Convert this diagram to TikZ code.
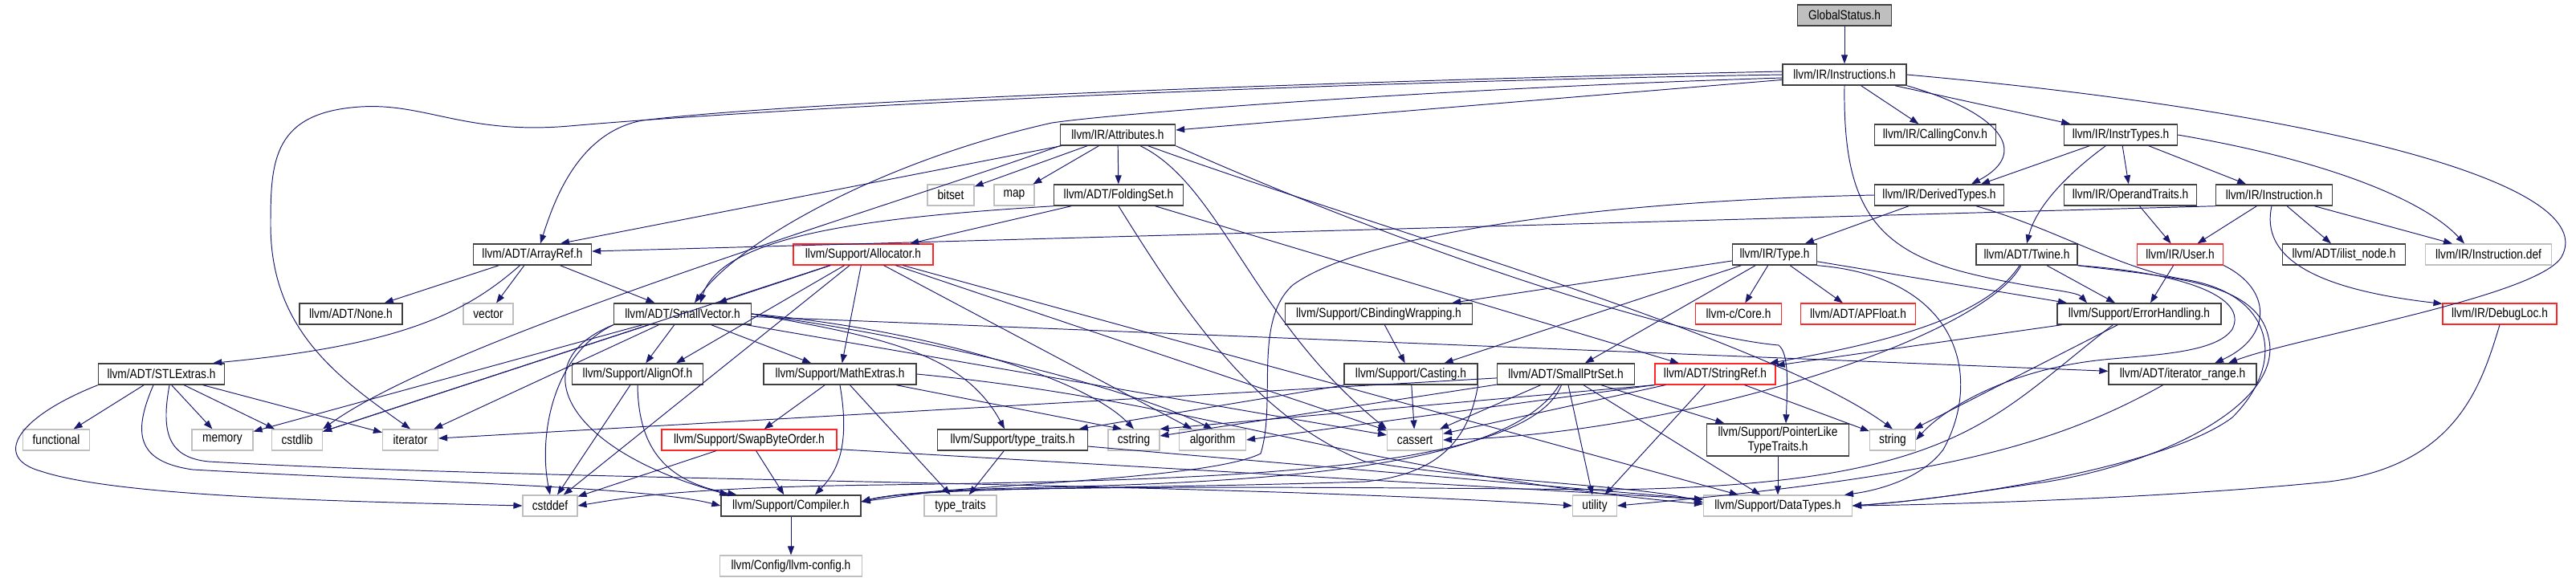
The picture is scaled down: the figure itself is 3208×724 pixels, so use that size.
\documentclass[tikz,border=0pt]{standalone}
\usepackage{fontspec}
\setmainfont{Liberation Sans}[FakeStretch=0.84]
\usetikzlibrary{arrows.meta,calc}
\definecolor{navy}{RGB}{25,25,112}
\definecolor{boxgray}{RGB}{191,191,191}
\begin{document}
\begin{tikzpicture}[x=0.02cm,y=-0.02cm,
    box/.style={draw=black!75,line width=0.8pt,fill=white,minimum height=0.52cm,inner sep=0pt,font=\fontsize{9.3}{10.5}\selectfont},
    redbox/.style={box,draw=red!85!white,line width=0.65pt},
    sysbox/.style={box,draw=boxgray,line width=0.65pt},
    edge/.style={navy,line width=0.55pt,-{Triangle[length=0.22cm,width=0.16cm]}}]
    \useasboundingbox (0,0) rectangle (3208,724);

    \node[box,fill=boxgray,minimum width=2.34cm] (GlobalStatus) at (2297,19) {GlobalStatus.h};
    \node[box,minimum width=3.08cm] (Instructions) at (2297,93) {llvm/IR/Instructions.h};

    \node[box,minimum width=2.86cm] (Attributes) at (1392,168) {llvm/IR/Attributes.h};
    \node[box,minimum width=3.02cm] (CallingConv) at (2410,168) {llvm/IR/CallingConv.h};
    \node[box,minimum width=2.82cm] (InstrTypes) at (2641,168) {llvm/IR/InstrTypes.h};

    \node[sysbox,minimum width=1.16cm] (bitset) at (1184,243) {bitset};
    \node[sysbox,minimum width=1.0cm] (map) at (1263,243) {map};
    \node[box,minimum width=3.22cm] (FoldingSet) at (1393,243) {llvm/ADT/FoldingSet.h};
    \node[box,minimum width=3.22cm] (DerivedTypes) at (2415,243) {llvm/IR/DerivedTypes.h};
    \node[box,minimum width=3.3cm] (OperandTraits) at (2653,243) {llvm/IR/OperandTraits.h};
    \node[box,minimum width=2.9cm] (Instruction) at (2832,243) {llvm/IR/Instruction.h};

    \node[box,minimum width=2.94cm] (ArrayRef) at (663,317) {llvm/ADT/ArrayRef.h};
    \node[redbox,minimum width=3.48cm] (Allocator) at (1075,317) {llvm/Support/Allocator.h};
    \node[box,minimum width=2.1cm] (Type) at (2210,317) {llvm/IR/Type.h};
    \node[box,minimum width=2.52cm] (Twine) at (2524,317) {llvm/ADT/Twine.h};
    \node[redbox,minimum width=2.14cm] (User) at (2715,317) {llvm/IR/User.h};
    \node[box,minimum width=3.06cm] (ilistnode) at (2919,317) {llvm/ADT/ilist\_node.h};
    \node[sysbox,minimum width=3.14cm] (Instrdef) at (3099,317) {llvm/IR/Instruction.def};

    \node[box,minimum width=2.56cm] (None) at (437,391) {llvm/ADT/None.h};
    \node[sysbox,minimum width=1.24cm] (vector) at (608,391) {vector};
    \node[box,minimum width=3.42cm] (SmallVector) at (850,391) {llvm/ADT/SmallVector.h};
    \node[box,minimum width=4.66cm] (CBinding) at (1717,391) {llvm/Support/CBindingWrapping.h};
    \node[redbox,minimum width=2.14cm] (Core) at (2165,391) {llvm-c/Core.h};
    \node[redbox,minimum width=2.86cm] (APFloat) at (2314,391) {llvm/ADT/APFloat.h};
    \node[box,minimum width=4.08cm] (ErrorHandling) at (2664,391) {llvm/Support/ErrorHandling.h};
    \node[redbox,minimum width=2.84cm] (DebugLoc) at (3113,391) {llvm/IR/DebugLoc.h};

    \node[box,minimum width=3.14cm] (STLExtras) at (201,466) {llvm/ADT/STLExtras.h};
    \node[box,minimum width=3.26cm] (AlignOf) at (794,466) {llvm/Support/AlignOf.h};
    \node[box,minimum width=3.8cm] (MathExtras) at (1046,466) {llvm/Support/MathExtras.h};
    \node[box,minimum width=3.32cm] (Casting) at (1757,466) {llvm/Support/Casting.h};
    \node[box,minimum width=3.42cm] (SmallPtrSet) at (1950,466) {llvm/ADT/SmallPtrSet.h};
    \node[redbox,minimum width=3.0cm] (StringRef) at (2136,466) {llvm/ADT/StringRef.h};
    \node[box,minimum width=3.68cm] (iterrange) at (2718,466) {llvm/ADT/iterator\_range.h};

    \node[sysbox,minimum width=1.66cm] (functional) at (70,548) {functional};
    \node[sysbox,minimum width=1.52cm] (memory) at (277,548) {memory};
    \node[sysbox,minimum width=1.26cm] (cstdlib) at (370,548) {cstdlib};
    \node[sysbox,minimum width=1.38cm] (iterator) at (511,548) {iterator};
    \node[redbox,minimum width=4.36cm] (SwapByteOrder) at (933,548) {llvm/Support/SwapByteOrder.h};
    \node[box,minimum width=3.74cm] (typetraitsh) at (1261,548) {llvm/Support/type\_traits.h};
    \node[sysbox,minimum width=1.28cm] (cstring) at (1412,548) {cstring};
    \node[sysbox,minimum width=1.66cm] (algorithm) at (1510,548) {algorithm};
    \node[sysbox,minimum width=1.38cm] (cassert) at (1762,548) {cassert};
    \node[box,minimum width=3.54cm,minimum height=0.8cm,align=center] (PointerLike) at (2214,548) {llvm/Support/PointerLike\\TypeTraits.h};
    \node[sysbox,minimum width=1.14cm] (string) at (2357,548) {string};

    \node[sysbox,minimum width=1.36cm] (cstddef) at (685,630) {cstddef};
    \node[box,minimum width=3.48cm] (Compiler) at (985,630) {llvm/Support/Compiler.h};
    \node[sysbox,minimum width=1.8cm] (typetraits) at (1196,630) {type\_traits};
    \node[sysbox,minimum width=1.1cm] (utility) at (1986,630) {utility};
    \node[sysbox,minimum width=3.7cm] (DataTypes) at (2214,630) {llvm/Support/DataTypes.h};

    \node[sysbox,minimum width=3.54cm] (config) at (985,705) {llvm/Config/llvm-config.h};

    \draw[edge] (GlobalStatus) -- (Instructions);
    \draw[edge] (Instructions) -- (Attributes);
    \draw[edge] (Instructions) -- (CallingConv);
    \draw[edge] (Instructions) -- (InstrTypes);
    \draw[edge] (Instructions.south east) .. controls (2490,140) and (2530,190) .. ($(DerivedTypes.north)+(40,0)$);
    \draw[edge] ($(Instructions.west)+(0,-4)$) .. controls (1700,100) and (1000,125) .. (800,150) .. controls (720,165) and (690,250) .. ($(ArrayRef.north)+(10,0)$);
    \draw[edge] ($(Instructions.west)+(0,4)$) .. controls (1800,110) and (1400,140) .. (1310,153) .. controls (1100,200) and (920,300) .. ($(SmallVector.north)+(15,0)$);
    \draw[edge] (Instructions.west) .. controls (1500,105) and (900,140) .. (709,157) .. controls (580,168) and (530,128) .. (449,133) .. controls (340,140) and (337,200) .. (337,280) .. controls (337,410) and (420,470) .. (iterator.north);
    \draw[edge] (Instructions.south) .. controls (2295,250) and (2330,310) .. (2450,340) .. controls (2530,360) and (2585,362) .. ($(ErrorHandling.north)+(-65,0)$);
    \draw[edge] (Instructions.east) .. controls (2900,140) and (3240,230) .. (3190,320) .. controls (3160,370) and (2860,420) .. ($(iterrange.north)+(57,0)$);

    \draw[edge] (Attributes) -- ($(ArrayRef.north)+(35,0)$);
    \draw[edge] (Attributes.south west) .. controls (1100,260) and (560,420) .. (cstdlib.north east);
    \draw[edge] (Attributes) -- (bitset);
    \draw[edge] (Attributes) -- (map);
    \draw[edge] (Attributes) -- (FoldingSet);
    \draw[edge] ($(Attributes.south)+(28,0)$) .. controls (1520,230) and (1560,400) .. (cassert.north west);
    \draw[edge] (Attributes.south east) .. controls (1800,330) and (2100,420) .. (2215,430) .. controls (2228,440) and (2226,480) .. ($(PointerLike.north)+(10,0)$);
    \draw[edge] (Attributes) .. controls (1700,280) and (2200,420) .. (string.north);

    \draw[edge] (FoldingSet.south west) .. controls (1100,270) and (900,290) .. ($(SmallVector.north)+(22,0)$);
    \draw[edge] (FoldingSet) -- (Allocator);
    \draw[edge] (FoldingSet) -- (StringRef);
    \draw[edge] (FoldingSet.south) .. controls (1470,380) and (1560,520) .. (1700,575) .. controls (1850,600) and (2050,605) .. ($(DataTypes.west)+(0,-4)$);

    \draw[edge] (ArrayRef) .. controls (580,390) and (500,430) .. ($(STLExtras.north east)+(-15,0)$);
    \draw[edge] (ArrayRef) -- (None);
    \draw[edge] (ArrayRef) -- (vector);
    \draw[edge] (ArrayRef) -- (SmallVector);

    \draw[edge] (Allocator) -- ($(SmallVector.north)+(44,0)$);
    \draw[edge] (Allocator) -- ($(AlignOf.north)+(48,0)$);
    \draw[edge] (Allocator) -- (MathExtras);
    \draw[edge] (Allocator) -- (cstddef);
    \draw[edge] (Allocator) -- (cstdlib);
    \draw[edge] (Allocator) -- (algorithm);
    \draw[edge] (Allocator) -- (cassert);
    \draw[edge] (Allocator) -- (DataTypes);

    \draw[edge] (Type) -- (CBinding);
    \draw[edge] (Type) -- (Casting);
    \draw[edge] (Type) -- (SmallPtrSet);
    \draw[edge] (Type) -- (Core);
    \draw[edge] (Type) -- (APFloat);
    \draw[edge] (Type) -- ($(ErrorHandling.north)+(-90,0)$);
    \draw[edge] (Type.south east) .. controls (2440,345) and (2470,470) .. (2420,560) .. controls (2390,600) and (2330,612) .. ($(DataTypes.north east)+(-10,0)$);

    \draw[edge] (DerivedTypes) -- (Type);
    \draw[edge] (DerivedTypes.west) .. controls (2000,250) and (1700,290) .. (1610,355) .. controls (1560,400) and (1590,500) .. (1570,565) .. controls (1500,600) and (1150,605) .. ($(Compiler.east)+(0,-5)$);
    \draw[edge] ($(DerivedTypes.south)+(46,0)$) .. controls (2560,285) and (2640,335) .. (2720,348) .. controls (2830,365) and (2850,450) .. (2780,520) .. controls (2700,580) and (2450,620) .. (DataTypes.east);

    \draw[edge] (InstrTypes) -- ($(DerivedTypes.north)+(52,0)$);
    \draw[edge] (InstrTypes) -- (OperandTraits);
    \draw[edge] (InstrTypes) -- (Instruction);
    \draw[edge] (InstrTypes) .. controls (2570,220) and (2535,260) .. (Twine.north);
    \draw[edge] (InstrTypes.east) .. controls (2900,200) and (3020,250) .. ($(Instrdef.north)+(-30,0)$);

    \draw[edge] (Instruction) -- (User);
    \draw[edge] (Instruction) -- (ilistnode);
    \draw[edge] (Instruction) -- ($(Instrdef.north)+(-45,0)$);
    \draw[edge] (Instruction) .. controls (2815,320) and (2880,360) .. (DebugLoc.170);
    \draw[edge] (Instruction.south west) -- ($(ArrayRef.east)+(0,-4)$);

    \draw[edge] (OperandTraits) -- (User);
    \draw[edge] (User) -- ($(ErrorHandling.north)+(14,0)$);
    \draw[edge] (User.south east) .. controls (2830,360) and (2830,420) .. ($(iterrange.north)+(40,0)$);

    \draw[edge] (Twine) -- ($(ErrorHandling.north)+(-30,0)$);
    \draw[edge] (Twine) .. controls (2470,400) and (2330,430) .. ($(StringRef.north east)+(-8,0)$);
    \draw[edge] (Twine) .. controls (2470,420) and (2100,540) .. (cassert.east);
    \draw[edge] (Twine.south east) .. controls (2720,340) and (2800,370) .. (2780,410) .. controls (2760,440) and (2680,442) .. (2620,448) .. controls (2500,460) and (2420,510) .. (string.east);
    \draw[edge] (Twine.south east) .. controls (2700,345) and (2810,350) .. (2825,420) .. controls (2845,500) and (2700,575) .. (2550,600) .. controls (2450,615) and (2380,625) .. (DataTypes.east);

    \draw[edge] (ErrorHandling) -- (StringRef);
    \draw[edge] ($(ErrorHandling.south west)+(70,0)$) .. controls (2480,520) and (2440,605) .. (2000,610) .. controls (1500,605) and (1150,605) .. ($(Compiler.east)+(0,-5)$);
    \draw[edge] (ErrorHandling) -- (string);

    \draw[edge] (DebugLoc.south) .. controls (3090,480) and (3060,580) .. (2900,600) .. controls (2700,620) and (2450,628) .. (DataTypes.east);

    \draw[edge] (CBinding) -- (Casting);
    \draw[edge] (Casting) -- (cassert);
    \draw[edge] (Casting) -- (typetraitsh);
    \draw[edge] (Casting.south east) .. controls (1830,540) and (1800,590) .. (1700,600) .. controls (1400,610) and (1150,605) .. ($(Compiler.east)+(0,-5)$);

    \draw[edge] (SmallPtrSet) .. controls (1880,580) and (1600,600) .. (1300,607) .. controls (1180,610) .. ($(Compiler.east)+(0,-5)$);
    \draw[edge] (SmallPtrSet) -- (DataTypes);
    \draw[edge] (SmallPtrSet) -- (PointerLike);
    \draw[edge] (SmallPtrSet) -- (utility);
    \draw[edge] (SmallPtrSet) -- (cassert);
    \draw[edge] (SmallPtrSet) .. controls (1900,590) and (1500,598) .. (1100,604) .. controls (850,607) and (780,620) .. (cstddef.east);
    \draw[edge] (SmallPtrSet) -- (cstring);
    \draw[edge] (SmallPtrSet) -- (iterator);

    \draw[edge] (StringRef.south west) -- (algorithm.east);
    \draw[edge] (StringRef) -- (cassert);
    \draw[edge] (StringRef.south west) -- (cstring.north east);
    \draw[edge] (StringRef) -- (string);
    \draw[edge] (StringRef) -- (utility);

    \draw[edge] (iterrange) .. controls (2550,560) and (2400,595) .. (utility.east);

    \draw[edge] (SmallVector) -- (AlignOf);
    \draw[edge] (SmallVector) -- (MathExtras);
    \draw[edge] (SmallVector.south west) .. controls (690,440) and (670,540) .. (cstddef.north);
    \draw[edge] (SmallVector.south west) .. controls (650,450) and (700,560) .. ($(Compiler.north west)+(10,0)$);
    \draw[edge] (SmallVector) -- (cstdlib);
    \draw[edge] (SmallVector) -- (memory);
    \draw[edge] (SmallVector) -- (iterator);
    \draw[edge] (SmallVector.east) .. controls (1150,420) and (1400,480) .. (algorithm.north);
    \draw[edge] (SmallVector) -- (cassert);
    \draw[edge] (SmallVector.east) .. controls (1100,420) and (1200,440) .. ($(typetraitsh.north)+(-10,0)$);
    \draw[edge] (SmallVector.east) .. controls (1150,410) and (1350,470) .. (cstring.north);
    \draw[edge] (SmallVector) -- (iterrange);

    \draw[edge] (STLExtras) -- (functional);
    \draw[edge] (STLExtras) -- (memory);
    \draw[edge] (STLExtras) -- (cstdlib);
    \draw[edge] (STLExtras) -- (iterator);
    \draw[edge] (STLExtras.south west) .. controls (20,520) and (-10,570) .. (51,587) .. controls (150,620) and (450,625) .. (cstddef.west);
    \draw[edge] ($(STLExtras.south)+(-10,0)$) .. controls (165,540) and (170,575) .. (240,585) .. controls (500,600) and (800,605) .. (Compiler.west);
    \draw[edge] ($(STLExtras.south)+(10,0)$) .. controls (200,540) and (210,570) .. (260,575) .. controls (700,600) and (1500,600) .. (utility.west);

    \draw[edge] (AlignOf) -- (cstddef);
    \draw[edge] (AlignOf.south) .. controls (795,560) and (830,600) .. ($(Compiler.north west)+(20,0)$);

    \draw[edge] (MathExtras) -- (SwapByteOrder);
    \draw[edge] (MathExtras.south) .. controls (1060,560) and (1040,590) .. ($(Compiler.north)+(30,0)$);
    \draw[edge] (MathExtras) -- (typetraits);
    \draw[edge] (MathExtras.east) .. controls (1500,500) and (1700,590) .. ($(DataTypes.west)+(0,-2)$);
    \draw[edge] (MathExtras) -- ($(cstring.north)+(-15,0)$);

    \draw[edge] (SwapByteOrder) -- (Compiler);
    \draw[edge] (SwapByteOrder) -- (cstddef);
    \draw[edge] ($(SwapByteOrder.south east)+(0,-2)$) -- ($(DataTypes.west)+(0,-8)$);

    \draw[edge] (typetraitsh) -- (typetraits);
    \draw[edge] (typetraitsh) -- (DataTypes);
    \draw[edge] (PointerLike) -- (DataTypes);
    \draw[edge] (Compiler) -- (config);
\end{tikzpicture}
\end{document}
